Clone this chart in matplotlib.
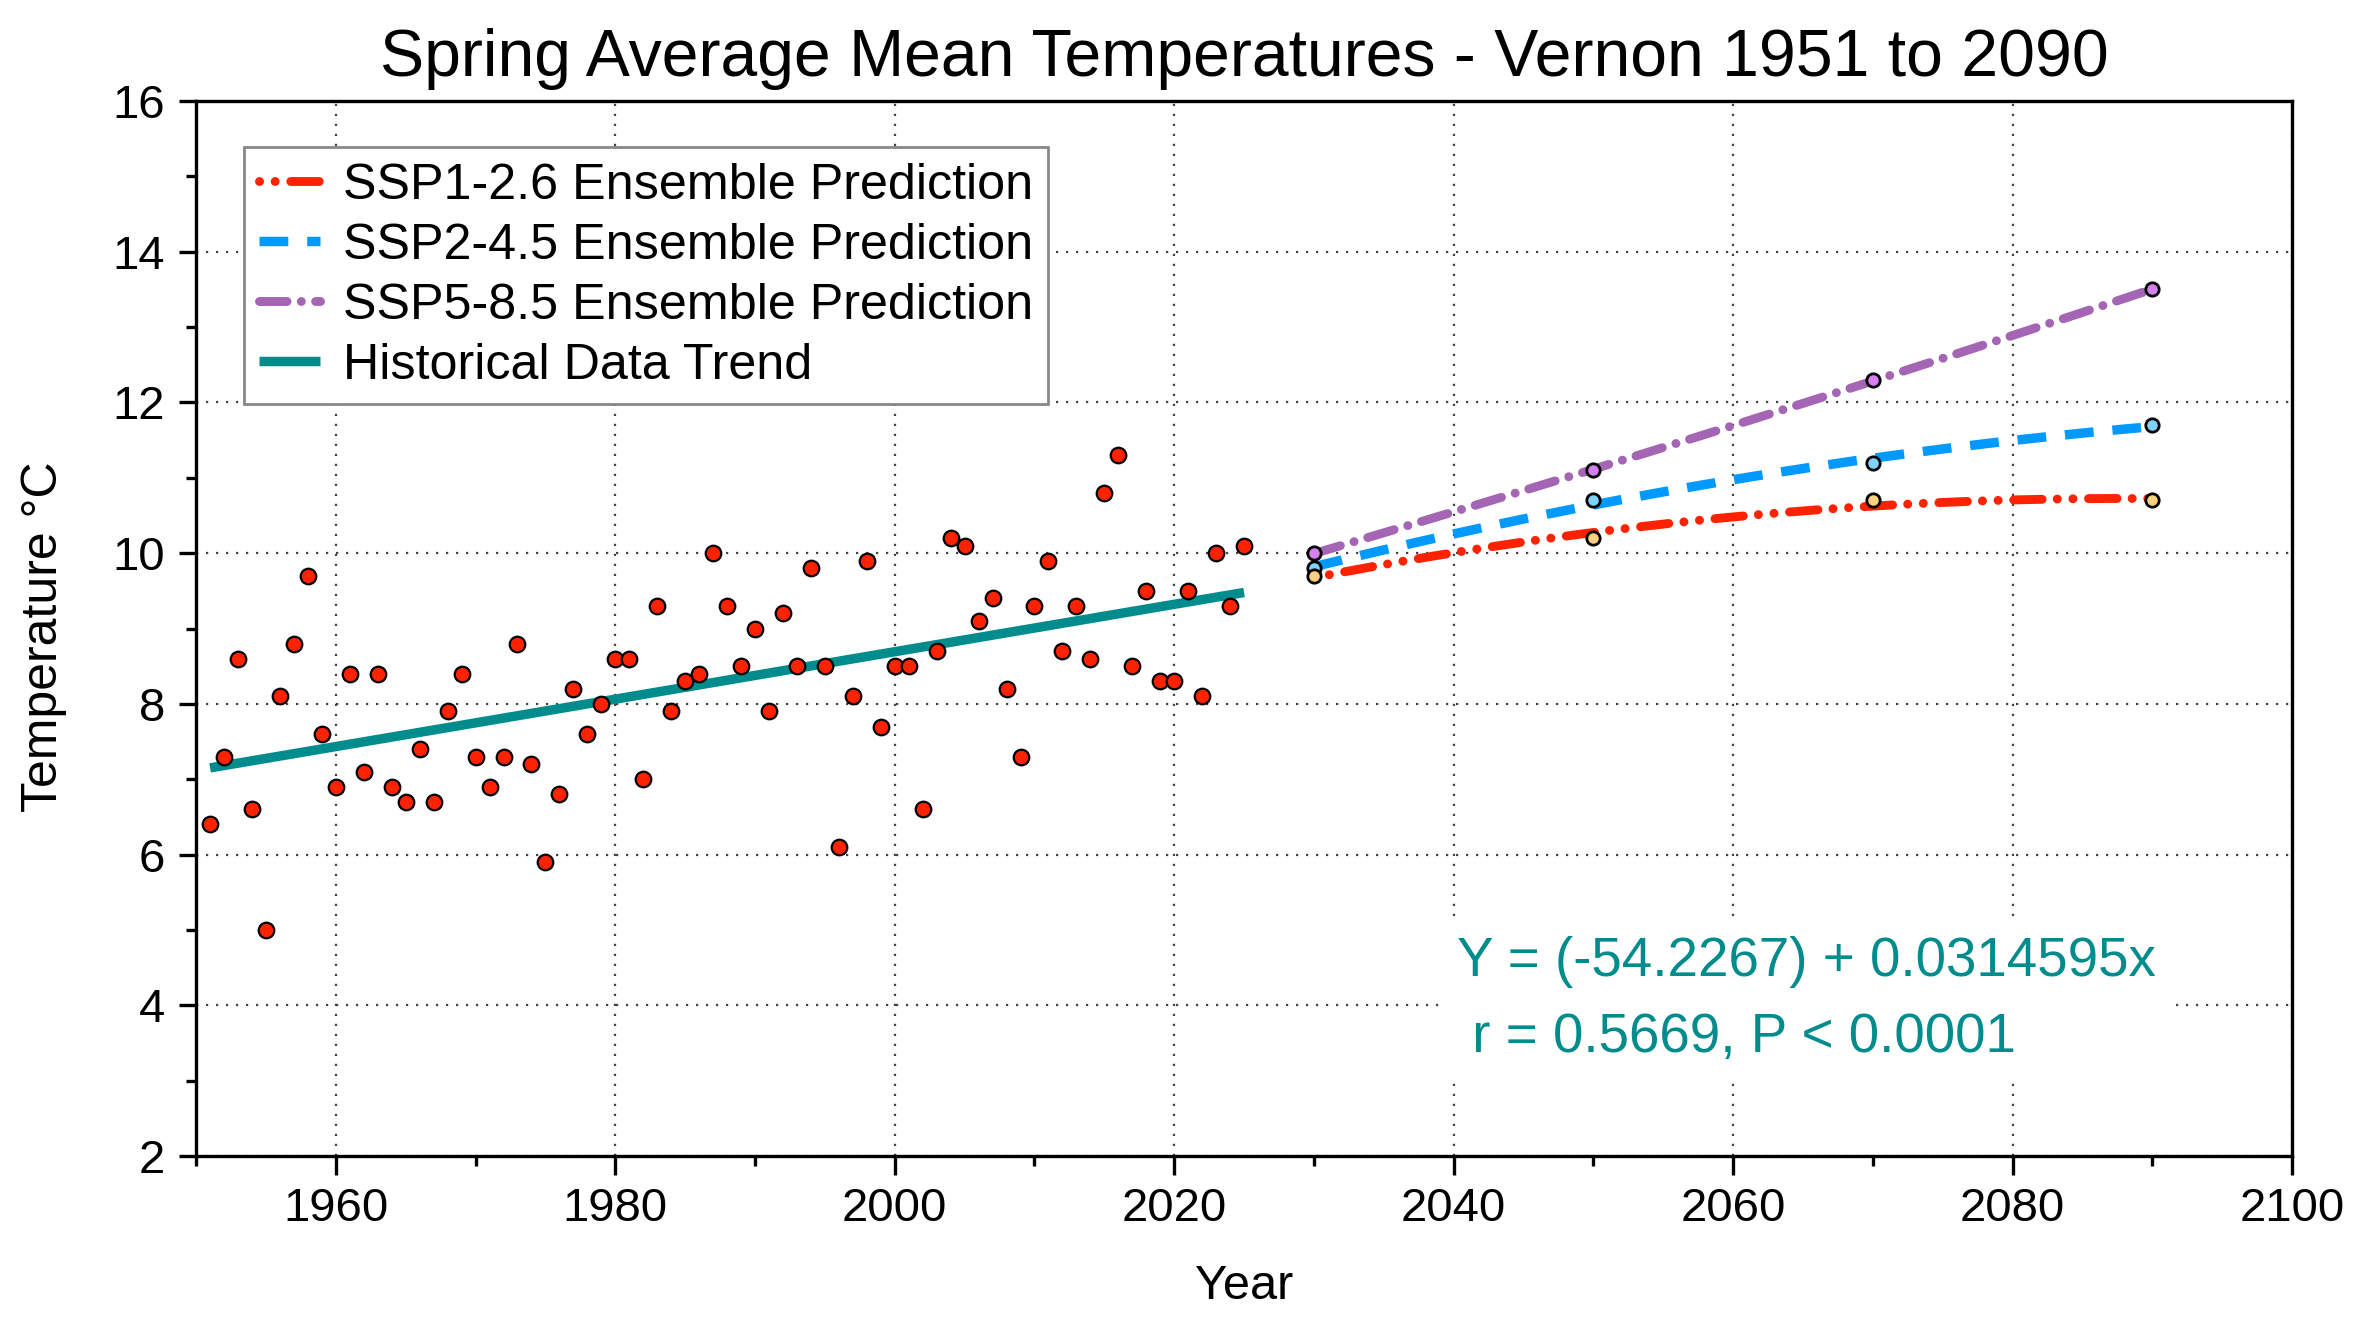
# IMPORTS

import numpy as np
import matplotlib
matplotlib.use('Agg')
import matplotlib.pyplot as plt
from matplotlib.ticker import MultipleLocator

plt.rcParams['font.family'] = ['Liberation Sans', 'DejaVu Sans']

# DATA

years = list(range(1951, 2026))
spring_temps = [6.4, 7.3, 8.6, 6.6, 5.0, 8.1, 8.8, 9.7, 7.6,           # 1951-1959
                6.9, 8.4, 7.1, 8.4, 6.9, 6.7, 7.4, 6.7, 7.9, 8.4,      # 1960s
                7.3, 6.9, 7.3, 8.8, 7.2, 5.9, 6.8, 8.2, 7.6, 8.0,      # 1970s
                8.6, 8.6, 7.0, 9.3, 7.9, 8.3, 8.4, 10.0, 9.3, 8.5,     # 1980s
                9.0, 7.9, 9.2, 8.5, 9.8, 8.5, 6.1, 8.1, 9.9, 7.7,      # 1990s
                8.5, 8.5, 6.6, 8.7, 10.2, 10.1, 9.1, 9.4, 8.2, 7.3,    # 2000s
                9.3, 9.9, 8.7, 9.3, 8.6, 10.8, 11.3, 8.5, 9.5, 8.3,    # 2010s
                8.3, 9.5, 8.1, 10.0, 9.3, 10.1]                        # 2020-2025

# regression shown on the chart
trend_intercept = -54.2267
trend_slope = 0.0314595
trend_years = [1951, 2025]

proj_years = [2030, 2050, 2070, 2090]
ssp126 = [9.7, 10.2, 10.7, 10.7]
ssp245 = [9.8, 10.7, 11.2, 11.7]
ssp585 = [10.0, 11.1, 12.3, 13.5]

annotation = 'Y = (-54.2267) + 0.0314595x\n r = 0.5669, P < 0.0001'

# COLOURS

TEAL = '#008C8C'
RED = '#FF2200'

# PLOT

fig, ax = plt.subplots(figsize=(11.8, 6.64), dpi=200)
fig.subplots_adjust(left=0.0831, right=0.9712, bottom=0.1295, top=0.9239)

# smooth ensemble curves (quadratic fit through the four projection points)
px = np.array(proj_years, dtype=float)
xs = np.linspace(px[0], px[-1], 200)


def fit_curve(vals):
    c = np.polyfit(px - 2060, vals, 2)
    return np.polyval(c, xs - 2060)


ax.plot(xs, fit_curve(ssp126), color=RED, lw=3.2, dash_capstyle='round',
        linestyle=(0, (0.01, 1.75, 0.01, 1.75, 3.2, 1.7)),
        label='SSP1-2.6 Ensemble Prediction', zorder=3)
ax.plot(xs, fit_curve(ssp245), color='#0099FF', lw=3.4, dash_capstyle='butt',
        linestyle=(0, (3.05, 2.0)),
        label='SSP2-4.5 Ensemble Prediction', zorder=3)
ax.plot(xs, fit_curve(ssp585), color='#A466B4', lw=3.2, dash_capstyle='round',
        linestyle=(0, (3.1, 1.6, 0.01, 1.6)),
        label='SSP5-8.5 Ensemble Prediction', zorder=3)

trend_vals = [trend_intercept + trend_slope * y for y in trend_years]
ax.plot(trend_years, trend_vals, color=TEAL, lw=3.4, solid_capstyle='butt',
        label='Historical Data Trend', zorder=3)

ax.plot(years, spring_temps, 'o', ls='none', ms=5.6, mfc=RED, mec='black',
        mew=0.8, zorder=4)

ax.plot(proj_years, ssp245, 'o', ls='none', ms=4.8, mfc='#7FD4FF', mec='black', mew=1.0, zorder=5)
ax.plot(proj_years, ssp585, 'o', ls='none', ms=4.8, mfc='#D580F0', mec='black', mew=1.0, zorder=5)
ax.plot(proj_years, ssp126, 'o', ls='none', ms=4.8, mfc='#FFD080', mec='black', mew=1.0, zorder=5)

ax.text(2040.25, 4.07, annotation, color=TEAL, fontsize=19.7, ha='left', va='center',
        linespacing=1.62, bbox=dict(boxstyle='square,pad=0.3', fc='white', ec='none'), zorder=3)

# axes
ax.set_xlim(1950, 2100)
ax.set_ylim(2, 16)
ax.xaxis.set_major_locator(MultipleLocator(20))
ax.xaxis.set_minor_locator(MultipleLocator(10))
ax.yaxis.set_major_locator(MultipleLocator(2))
ax.yaxis.set_minor_locator(MultipleLocator(1))
ax.tick_params(which='both', direction='out', width=1.2, top=False, right=False, labelsize=17)
ax.tick_params(axis='x', which='major', length=7, pad=4)
ax.tick_params(axis='y', which='major', length=6.2, pad=5)
ax.tick_params(which='minor', length=3.6)
for sp in ax.spines.values():
    sp.set_linewidth(1.2)

ax.grid(True, which='major', linestyle=(0, (1, 3.5)), linewidth=0.8, color='#444444')

leg = ax.legend(loc='upper left', bbox_to_anchor=(0.0229, 0.956), borderaxespad=0,
                fontsize=18.1, fancybox=False, edgecolor='#888888', framealpha=1,
                handlelength=1.2, handletextpad=0.46, borderpad=0.3, labelspacing=0.28)
leg.get_frame().set_linewidth(1.0)

ax.set_title('Spring Average Mean Temperatures - Vernon 1951 to 2090', fontsize=23.8, pad=9)
ax.set_xlabel('Year', fontsize=17.5, labelpad=12)
ax.set_ylabel('Temperature °C', fontsize=18, labelpad=15)
ax.yaxis.set_label_coords(-0.0615, 0.4924)

fig.savefig('out.png', dpi=200)
